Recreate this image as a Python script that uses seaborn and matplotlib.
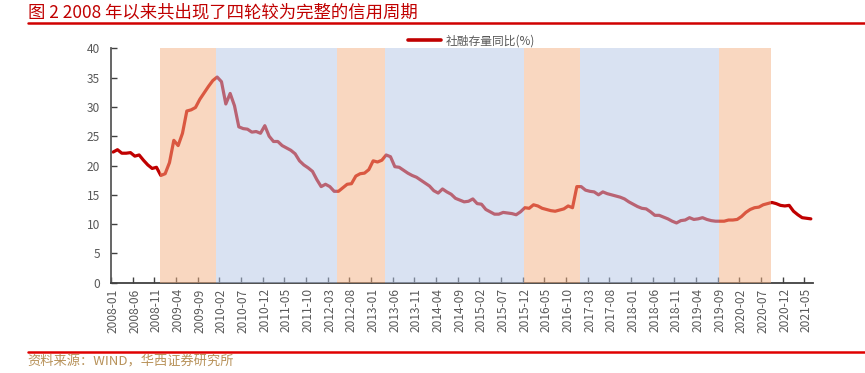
import numpy as np
import pandas as pd
import matplotlib
matplotlib.use('Agg')
import matplotlib.pyplot as plt
from matplotlib.lines import Line2D
import seaborn as sns

# 월별 라벨 (2008-01 ~ 2021-06)
months = pd.period_range('2008-01', '2021-06', freq='M').strftime('%Y-%m').tolist()

# 社融存量同比 (%), 그림에서 읽은 값
tsf_yoy = [
    22.3, 22.7, 22.1, 22.1, 22.2, 21.6, 21.8, 20.9, 20.1, 19.5,
    19.7, 18.3, 18.6, 20.5, 24.3, 23.4, 25.5, 29.3, 29.5, 29.9,
    31.3, 32.4, 33.5, 34.5, 35.1, 34.3, 30.5, 32.3, 30.2, 26.6,
    26.3, 26.2, 25.7, 25.8, 25.5, 26.8, 25.0, 24.1, 24.1, 23.4,
    23.0, 22.6, 22.0, 20.8, 20.1, 19.6, 19.0, 17.6, 16.4, 16.8,
    16.4, 15.6, 15.6, 16.2, 16.8, 16.9, 18.2, 18.6, 18.7, 19.3,
    20.8, 20.6, 20.9, 21.8, 21.5, 19.8, 19.7, 19.2, 18.7, 18.3,
    18.0, 17.5, 17.0, 16.5, 15.7, 15.3, 16.0, 15.5, 15.1, 14.4,
    14.1, 13.8, 13.9, 14.3, 13.5, 13.4, 12.5, 12.1, 11.7, 11.7,
    12.0, 11.9, 11.8, 11.6, 12.1, 12.8, 12.7, 13.3, 13.1, 12.7,
    12.5, 12.3, 12.2, 12.4, 12.6, 13.1, 12.8, 16.4, 16.4, 15.8,
    15.6, 15.5, 15.0, 15.5, 15.2, 15.0, 14.8, 14.6, 14.3, 13.8,
    13.4, 13.0, 12.7, 12.6, 12.1, 11.5, 11.5, 11.2, 10.9, 10.5,
    10.2, 10.6, 10.7, 11.1, 10.8, 10.9, 11.1, 10.8, 10.6, 10.5,
    10.5, 10.5, 10.7, 10.7, 10.8, 11.3, 12.0, 12.5, 12.8, 12.9,
    13.3, 13.5, 13.7, 13.5, 13.2, 13.1, 13.2, 12.2, 11.6, 11.1,
    11.0, 10.9,
]

# 신용 주기 구간 (시작, 끝, 종류)
cycle_start = ['2008-12', '2010-01', '2012-05', '2013-04', '2015-12', '2017-01', '2019-09']
cycle_end = ['2010-01', '2012-05', '2013-04', '2015-12', '2017-01', '2019-09', '2020-09']
cycle_kind = ['up', 'down', 'up', 'down', 'up', 'down', 'up']

df = pd.DataFrame({'idx': np.arange(len(months)), 'month': months, 'value': tsf_yoy})

sns.set_style('ticks')
plt.rcParams['font.family'] = ['Noto Sans CJK SC', 'DejaVu Sans']
plt.rcParams['axes.unicode_minus'] = False

fig = plt.figure(figsize=(8.65, 3.73), dpi=100)
ax = fig.add_axes([0.1283, 0.242, 0.8116, 0.6285])

sns.lineplot(data=df, x='idx', y='value', ax=ax, color='#C00000', linewidth=2.3,
             label='社融存量同比(%)', zorder=2)

span_colors = {'up': '#F4B183', 'down': '#B4C7E7'}
for s, e, k in zip(cycle_start, cycle_end, cycle_kind):
    ax.axvspan(months.index(s) - 0.3, months.index(e) - 0.3, ymin=0, ymax=1,
               color=span_colors[k], alpha=0.5, lw=0, zorder=3)

ax.set_xlim(-0.5, len(months) - 0.5)
ax.set_ylim(0, 40)
ax.set_yticks(np.arange(0, 41, 5))
ax.set_xlabel('')
ax.set_ylabel('')

# x축: 5개월 간격 라벨, 눈금은 구간 경계에
lab_pos = np.arange(0, len(months), 5)
ax.set_xticks(lab_pos)
ax.set_xticklabels([months[i] for i in lab_pos], rotation=90)
ax.set_xticks(lab_pos - 0.5, minor=True)
ax.tick_params(axis='x', which='major', length=0, pad=4, labelsize=8.6, labelcolor='#595959')
ax.tick_params(axis='x', which='minor', direction='in', length=4, width=1, color='#404040')
ax.tick_params(axis='y', direction='in', length=4, width=1, color='#404040',
               labelsize=8.6, labelcolor='#595959', pad=8)

for side in ['top', 'right']:
    ax.spines[side].set_visible(False)
ax.spines['left'].set_color('#595959')
ax.spines['left'].set_linewidth(1.3)
ax.spines['bottom'].set_color('#404040')
ax.spines['bottom'].set_linewidth(1.3)

leg = ax.legend(loc='center', bbox_to_anchor=(0.545, 0.89), bbox_transform=fig.transFigure,
                frameon=False, fontsize=8.5, handlelength=2.8, handletextpad=0.4)
for t in leg.get_texts():
    t.set_color('#595959')
for h in leg.get_lines():
    h.set_linewidth(2.6)

# 제목, 출처, 구분선
fig.text(0.032, 0.968, '图 2 2008 年以来共出现了四轮较为完整的信用周期',
         color='#C00000', fontsize=12.5, va='center', ha='left')
fig.add_artist(Line2D([0.032, 1.0], [0.939, 0.939], transform=fig.transFigure,
                      color='#D00000', linewidth=1.8))
fig.add_artist(Line2D([0.032, 1.0], [0.057, 0.057], transform=fig.transFigure,
                      color='#E00000', linewidth=1.8))
fig.text(0.032, 0.029, '资料来源：WIND，华西证券研究所', color='#B8925A',
         fontsize=9.5, va='center', ha='left')

plt.savefig('out.png', dpi=100)
